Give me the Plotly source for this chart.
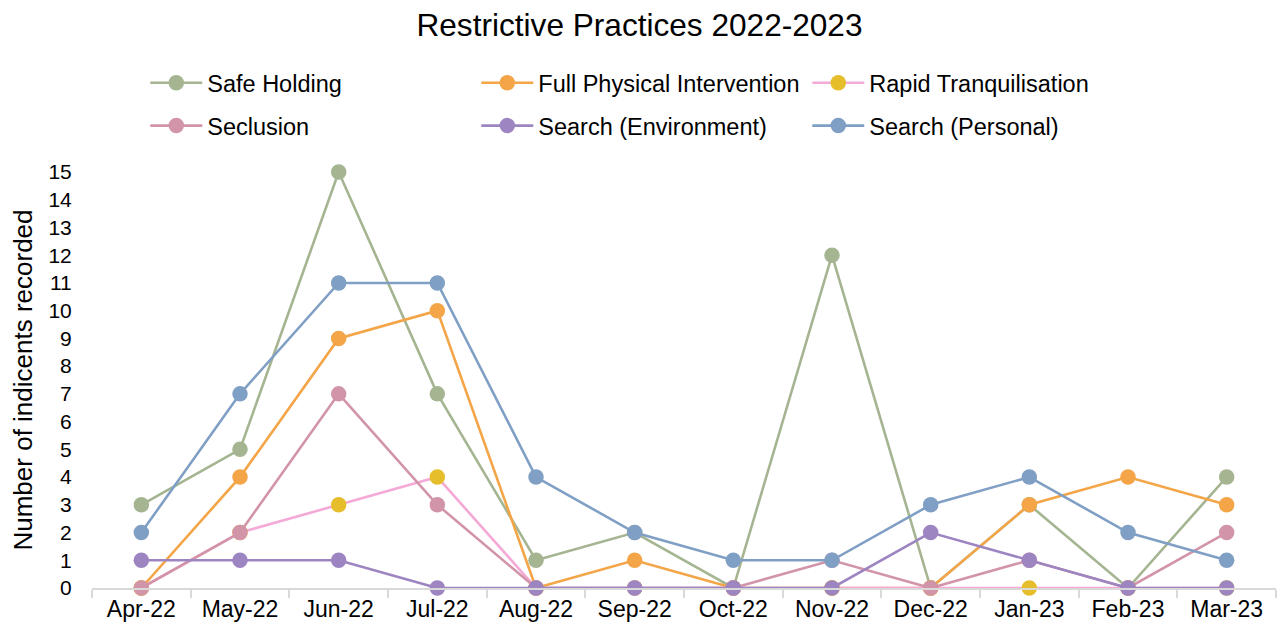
import plotly.graph_objects as go

months = ["Apr-22", "May-22", "Jun-22", "Jul-22", "Aug-22", "Sep-22",
          "Oct-22", "Nov-22", "Dec-22", "Jan-23", "Feb-23", "Mar-23"]

safe_holding = [3, 5, 15, 7, 1, 2, 0, 12, 0, 3, 0, 4]
full_physical = [0, 4, 9, 10, 0, 1, 0, 0, 0, 3, 4, 3]
rapid_tranq = [0, 2, 3, 4, 0, 0, 0, 0, 0, 0, 0, 0]
seclusion = [0, 2, 7, 3, 0, 0, 0, 1, 0, 1, 0, 2]
search_env = [1, 1, 1, 0, 0, 0, 0, 0, 2, 1, 0, 0]
search_personal = [2, 7, 11, 11, 4, 2, 1, 1, 3, 4, 2, 1]

series = [
    ("Safe Holding", safe_holding, "#A5B592", "#A5B592", "legend"),
    ("Full Physical Intervention", full_physical, "#F3A547", "#F3A547", "legend"),
    ("Rapid Tranquilisation", rapid_tranq, "#F5A9D6", "#E6BD2B", "legend"),
    ("Seclusion", seclusion, "#D294A8", "#D294A8", "legend2"),
    ("Search (Environment)", search_env, "#9D85C1", "#9D85C1", "legend2"),
    ("Search (Personal)", search_personal, "#809FC4", "#809FC4", "legend2"),
]

FONT = "Liberation Sans, Arial, sans-serif"

fig = go.Figure()
for name, vals, lc, mc, lg in series:
    fig.add_trace(go.Scatter(
        x=months, y=vals, name=name, mode="lines+markers",
        line=dict(color=lc, width=2.6),
        marker=dict(color=mc, size=15.5),
        cliponaxis=False, legend=lg,
    ))

legend_common = dict(
    orientation="h", xref="paper", yref="paper", x=0.045,
    xanchor="left", yanchor="middle",
    entrywidth=264, entrywidthmode="pixels", itemwidth=52,
    font=dict(family=FONT, size=23.5, color="#000000"),
    bgcolor="rgba(0,0,0,0)", traceorder="normal",
)

fig.update_layout(
    width=1279, height=630,
    margin=dict(l=92, r=3, t=172, b=42),
    paper_bgcolor="white", plot_bgcolor="white",
    title=dict(text="Restrictive Practices 2022-2023", xref="container",
               x=0.5, xanchor="center", yref="container", y=0.96,
               yanchor="middle",
               font=dict(family=FONT, size=31.6, color="#000000")),
    legend=dict(y=1.214, **legend_common),
    legend2=dict(y=1.111, **legend_common),
    xaxis=dict(type="category", range=[-0.5, 11.5], showline=True,
               linecolor="#D9D9D9", linewidth=1.5, ticks="outside",
               tickson="boundaries", ticklen=8, tickcolor="#D9D9D9",
               tickwidth=1.5, showgrid=False, zeroline=False,
               tickfont=dict(family=FONT, size=23, color="#000000")),
    yaxis=dict(range=[0, 15], dtick=1, showgrid=False, zeroline=False,
               showline=False, ticks="outside", ticklen=15,
               tickcolor="rgba(0,0,0,0)",
               tickfont=dict(family=FONT, size=21, color="#000000"),
               title=dict(text="Number of indicents recorded", standoff=8,
                          font=dict(family=FONT, size=26, color="#000000"))),
)

fig.write_html("out.html")
